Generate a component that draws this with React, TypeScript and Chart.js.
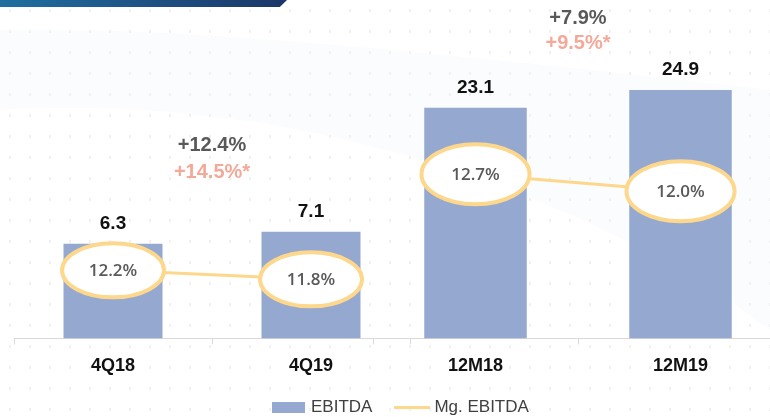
import React, { useEffect, useRef } from "react";
import { Chart, registerables } from "chart.js";

Chart.register(...registerables);

// ---- data ----
const leftCategories = ["4Q18", "4Q19"];
const leftEbitda = [6.3, 7.1];
const leftMargin = [12.2, 11.8];
const leftGrowth = ["+12.4%", "+14.5%*"];

const rightCategories = ["12M18", "12M19"];
const rightEbitda = [23.1, 24.9];
const rightMargin = [12.7, 12.0];
const rightGrowth = ["+7.9%", "+9.5%*"];

const legendLabels = ["EBITDA", "Mg. EBITDA"];

// ---- styles ----
const BAR = "#95A8D0";
const LINE = "#FCD78C";
const AXIS = "#D9D9D9";
const FONT = '"Liberation Sans", Arial, sans-serif';

type Panel = {
  categories: string[];
  ebitda: number[];
  margin: number[];
  growth: string[];
  canvasWidth: number;
  padLeft: number;
  padRight: number;
  barMax: number;
  lineMin: number;
  lineMax: number;
  rx: number;
  ry: number;
  growthY: number[];
};

const panels: Panel[] = [
  {
    categories: leftCategories,
    ebitda: leftEbitda,
    margin: leftMargin,
    growth: leftGrowth,
    canvasWidth: 770,
    padLeft: 14,
    padRight: 360,
    barMax: 20,
    lineMin: 9.18,
    lineMax: 22.51,
    rx: 51,
    ry: 27,
    growthY: [145, 172],
  },
  {
    categories: rightCategories,
    ebitda: rightEbitda,
    margin: rightMargin,
    growth: rightGrowth,
    canvasWidth: 790,
    padLeft: 373,
    padRight: 7,
    barMax: 30.1,
    lineMin: 5.95,
    lineMax: 18.3,
    rx: 54,
    ry: 30,
    growthY: [18, 43],
  },
];

function overlayPlugin(p: Panel) {
  return {
    id: "overlay",
    afterDatasetsDraw(chart: any) {
      const ctx = chart.ctx;
      const lineMeta = chart.getDatasetMeta(0);
      const barMeta = chart.getDatasetMeta(1);
      ctx.save();
      // bar value labels
      ctx.fillStyle = "#111111";
      ctx.font = `bold 19px ${FONT}`;
      ctx.textAlign = "center";
      ctx.textBaseline = "middle";
      barMeta.data.forEach((bar: any, i: number) => {
        ctx.fillText(p.ebitda[i].toFixed(1), bar.x, bar.y - 20);
      });
      // ellipses with margin labels
      lineMeta.data.forEach((pt: any, i: number) => {
        ctx.beginPath();
        ctx.ellipse(pt.x, pt.y, p.rx, p.ry, 0, 0, Math.PI * 2);
        ctx.fillStyle = "#FFFFFF";
        ctx.fill();
        ctx.lineWidth = 4;
        ctx.strokeStyle = LINE;
        ctx.stroke();
        ctx.fillStyle = "#595959";
        ctx.font = `600 17px "Open Sans", ${FONT}`;
        ctx.fillText(p.margin[i].toFixed(1) + "%", pt.x, pt.y + 1);
      });
      // growth annotation between categories
      const b0 = barMeta.data[0];
      const b1 = barMeta.data[1];
      const mx = (b0.x + b1.x) / 2;
      ctx.font = `bold 20px ${FONT}`;
      ctx.fillStyle = "#595959";
      ctx.fillText(p.growth[0], mx, p.growthY[0]);
      ctx.fillStyle = "#F4A898";
      ctx.fillText(p.growth[1], mx, p.growthY[1]);
      ctx.restore();
    },
  };
}

function PanelChart({ p }: { p: Panel }) {
  const ref = useRef<HTMLCanvasElement | null>(null);
  useEffect(() => {
    if (!ref.current) return;
    const chart = new Chart(ref.current, {
      type: "bar",
      data: {
        labels: p.categories,
        datasets: [
          {
            type: "line",
            label: "Mg. EBITDA",
            data: p.margin,
            yAxisID: "y2",
            borderColor: LINE,
            borderWidth: 3,
            pointRadius: 0,
            order: 0,
          } as any,
          {
            type: "bar",
            label: "EBITDA",
            data: p.ebitda,
            yAxisID: "y",
            backgroundColor: BAR,
            barPercentage: 0.5,
            categoryPercentage: 1,
            order: 1,
          } as any,
        ],
      },
      options: {
        animation: false,
        responsive: false,
        maintainAspectRatio: false,
        layout: { padding: { left: p.padLeft, right: p.padRight, top: 38, bottom: 29 } },
        plugins: { legend: { display: false }, tooltip: { enabled: false } },
        scales: {
          x: {
            grid: {
              offset: true,
              drawOnChartArea: false,
              drawTicks: true,
              tickLength: 6,
              color: AXIS,
            },
            border: { display: true, color: AXIS, width: 1 },
            ticks: {
              color: "#111111",
              font: { family: FONT, size: 18, weight: "bold" },
              padding: 11,
            },
          },
          y: { display: false, min: 0, max: p.barMax },
          y2: { display: false, min: p.lineMin, max: p.lineMax },
        },
      } as any,
      plugins: [overlayPlugin(p)],
    });
    return () => chart.destroy();
  }, [p]);
  return (
    <canvas
      ref={ref}
      width={p.canvasWidth}
      height={417}
      style={{ position: "absolute", left: 0, top: 0, width: p.canvasWidth, height: 417 }}
    />
  );
}

export default function App() {
  return (
    <div
      style={{
        position: "fixed",
        left: 0,
        top: 0,
        width: 770,
        height: 417,
        overflow: "hidden",
        background: "#FFFFFF",
        fontFamily: FONT,
      }}
    >
      {/* faint dot pattern */}
      <div
        style={{
          position: "absolute",
          inset: 0,
          backgroundImage: "radial-gradient(circle, #ECECEC 1.1px, transparent 1.4px)",
          backgroundSize: "20px 21px",
          opacity: 0.8,
        }}
      />
      {/* faint swoosh */}
      <svg width={770} height={417} style={{ position: "absolute", left: 0, top: 0 }}>
        <path
          d="M0,30 C200,25 500,60 770,90 L770,330 C600,200 300,90 0,110 Z"
          fill="#EFF5F9"
          opacity={0.3}
        />
      </svg>
      {/* banner */}
      <div
        style={{
          position: "absolute",
          left: 0,
          top: 0,
          width: 287,
          height: 7,
          background: "linear-gradient(90deg, #1F6FA0, #1B3668)",
          clipPath: "polygon(0 0, 100% 0, 97.5% 100%, 0 100%)",
        }}
      />
      {panels.map((p, i) => (
        <PanelChart key={i} p={p} />
      ))}
      {/* legend */}
      <div
        style={{
          position: "absolute",
          left: 272,
          top: 397,
          height: 20,
          display: "flex",
          alignItems: "center",
          fontSize: 17,
          color: "#404040",
          whiteSpace: "nowrap",
        }}
      >
        <span style={{ display: "inline-block", width: 33, height: 11, background: BAR, marginRight: 6 }} />
        <span>{legendLabels[0]}</span>
        <span
          style={{ display: "inline-block", width: 36, height: 3, background: LINE, marginLeft: 22, marginRight: 4 }}
        />
        <span>{legendLabels[1]}</span>
      </div>
    </div>
  );
}
